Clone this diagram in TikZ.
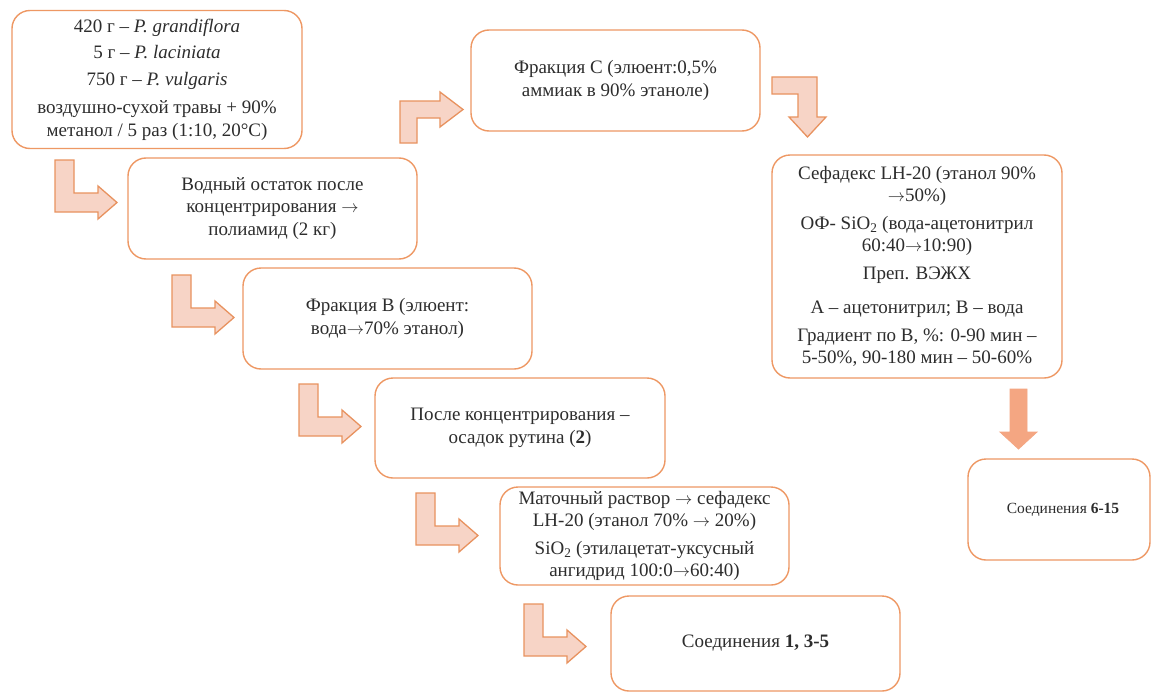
\documentclass[tikz,border=0pt]{standalone}
\usepackage{fontspec}
\setmainfont{Liberation Serif}
\definecolor{boxborder}{RGB}{238,152,100}
\definecolor{arrfill}{RGB}{247,212,198}
\definecolor{arrborder}{RGB}{232,146,95}
\definecolor{arrdark}{RGB}{244,166,130}
\definecolor{txt}{RGB}{45,45,45}
\newcommand{\rarr}{\ensuremath{\rightarrow}}
\tikzset{
  flowbox/.style={draw=boxborder, line width=1.4pt, rounded corners=18pt, fill=white,
    align=center, text=txt, inner sep=0pt,
    font=\fontsize{19}{22.5}\selectfont},
  arrowshape/.style={draw=arrborder, fill=arrfill, line width=1.3pt, line join=miter},
  larrow/.pic={\path[arrowshape] (0,0) -- (19,0) -- (19,33) -- (43,33) -- (43,26) -- (62,42.5) -- (43,59) -- (43,52) -- (0,52) -- cycle;}
}
\begin{document}
\begin{tikzpicture}[x=1pt,y=-1pt]
\useasboundingbox (0,0) rectangle (1151,693);
\fill[white] (0,0) rectangle (1151,693);

% boxes
\node[flowbox, minimum width=290pt, minimum height=138pt] (a) at (157,79.5)
 {420 г – \textit{P. grandiflora}\\[4pt]
  5 г – \textit{P. laciniata}\\[4pt]
  750 г – \textit{P. vulgaris}\\[6pt]
  воздушно-сухой травы + 90\%\\
  метанол / 5 раз (1:10, 20°С)};
\node[flowbox, minimum width=289pt, minimum height=101pt] (b) at (272.5,208.5)
 {Водный остаток после\\ концентрирования \rarr\\ полиамид (2 кг)};
\node[flowbox, minimum width=289pt, minimum height=101pt] (c) at (615.5,80.5)
 {Фракция С (элюент:0,5\%\\ аммиак в 90\% этаноле)};
\node[flowbox, minimum width=289pt, minimum height=101pt] (d) at (387.5,318.5)
 {Фракция В (элюент:\\ вода\rarr70\% этанол)};
\node[flowbox, minimum width=290pt, minimum height=100pt] (e) at (520,428)
 {После концентрирования –\\ осадок рутина (\textbf{2})};
\node[flowbox, minimum width=289pt, minimum height=98pt] (f) at (644.5,536)
 {Маточный раствор \rarr{} сефадекс\\ LH-20 (этанол 70\% \rarr{} 20\%)\\[5pt]
  SiO\textsubscript{2} (этилацетат-уксусный\\ ангидрид 100:0\rarr60:40)};
\node[flowbox, minimum width=290pt, minimum height=223pt] (h) at (917,266.5)
 {Сефадекс LH-20 (этанол 90\%\\ \rarr50\%)\\[5pt]
  ОФ- SiO\textsubscript{2} (вода-ацетонитрил\\ 60:40\rarr10:90)\\[5pt]
  Преп. ВЭЖХ\\[12pt]
  А – ацетонитрил; В – вода\\[5pt]
  Градиент по В, \%: 0-90 мин –\\ 5-50\%, 90-180 мин – 50-60\%};
\node[flowbox, minimum width=289pt, minimum height=95pt] (g) at (755.5,643.5)
 {Соединения \textbf{1, 3-5}};
\node[flowbox, minimum width=182pt, minimum height=101pt, font=\fontsize{15.5}{18}\selectfont] (i) at (1059,509.5)
 {\hspace*{8pt}Соединения \textbf{6-15}};

% bent arrows
\pic (ar1) at (55,160) {larrow};
\pic (ar2) at (172,275) {larrow};
\pic (ar3) at (299,384) {larrow};
\pic (ar4) at (416,493) {larrow};
\pic (ar5) at (524,604) {larrow};

\path[arrowshape] (400,143) -- (400,101) -- (440,101) -- (440,92) -- (463,109.5)
  -- (440,127) -- (440,118) -- (417,118) -- (417,143) -- cycle;
\path[arrowshape] (772,77) -- (817,77) -- (817,117) -- (826,117) -- (807.5,137)
  -- (789,117) -- (798,117) -- (798,94) -- (772,94) -- cycle;
\path[draw=arrdark, fill=arrdark, line width=0.8pt] (1010,389) -- (1027,389) -- (1027,432) -- (1037,432)
  -- (1018.5,449) -- (1000,432) -- (1010,432) -- cycle;
\end{tikzpicture}
\end{document}
